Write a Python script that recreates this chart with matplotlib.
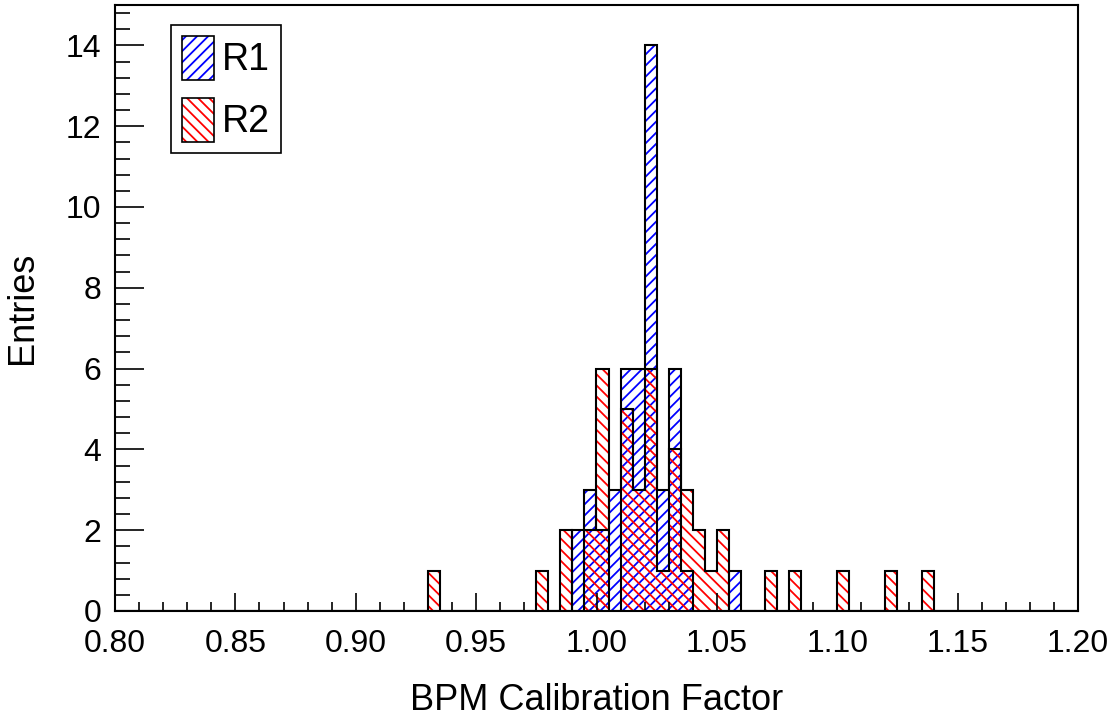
import matplotlib.pyplot as plt
from matplotlib.patches import Patch
import numpy as np

plt.rcParams['font.family'] = ['Liberation Sans', 'DejaVu Sans']
plt.rcParams['hatch.linewidth'] = 1.3

# Binning : 80 bins de 0.005 entre 0.80 et 1.20
bin_edges = np.linspace(0.80, 1.20, 81)

# R1 : bord gauche des bins non vides et contenus
r1_low = [0.990, 0.995, 1.000, 1.005, 1.010, 1.015, 1.020, 1.025, 1.030, 1.035, 1.055]
r1_counts = [2, 3, 2, 3, 6, 6, 14, 3, 6, 1, 1]

# R2
r2_low = [0.930, 0.975, 0.985, 0.995, 1.000, 1.010, 1.015, 1.020, 1.025, 1.030,
          1.035, 1.040, 1.045, 1.050, 1.070, 1.080, 1.100, 1.120, 1.135]
r2_counts = [1, 1, 2, 2, 6, 5, 3, 6, 1, 4, 3, 2, 1, 2, 1, 1, 1, 1, 1]

r1_x = np.array(r1_low) + 0.0025
r2_x = np.array(r2_low) + 0.0025

fig = plt.figure(figsize=(11.16, 7.17), dpi=100)
ax = fig.add_axes([115 / 1116, 106 / 717, 963 / 1116, 606 / 717])

# Hachures
ax.hist(r1_x, bins=bin_edges, weights=r1_counts, histtype='stepfilled',
        facecolor='none', edgecolor='blue', hatch='///', linewidth=0)
ax.hist(r1_x, bins=bin_edges, weights=r1_counts, histtype='step',
        color='black', linewidth=1.5)
ax.hist(r2_x, bins=bin_edges, weights=r2_counts, histtype='stepfilled',
        facecolor='none', edgecolor='red', hatch='\\\\\\', linewidth=0)
ax.hist(r2_x, bins=bin_edges, weights=r2_counts, histtype='step',
        color='black', linewidth=1.5)

ax.set_xlim(0.80, 1.20)
ax.set_ylim(0, 15)

## Graduations
ax.set_xticks(np.arange(0.80, 1.2001, 0.05))
ax.set_xticklabels([f'{v:.2f}' for v in np.arange(0.80, 1.2001, 0.05)])
ax.set_xticks(np.arange(0.80, 1.2001, 0.01), minor=True)
ax.set_yticks(np.arange(0, 15, 2))
ax.set_yticks(np.arange(0, 15, 0.4), minor=True)
ax.tick_params(axis='both', which='both', direction='in', labelsize=23, width=1.2)
ax.tick_params(axis='x', which='major', length=13, pad=13)
ax.tick_params(axis='x', which='minor', length=6.5)
ax.tick_params(axis='y', which='major', length=21, pad=10)
ax.tick_params(axis='y', which='minor', length=10.5)
for s in ax.spines.values():
    s.set_linewidth(1.5)

## Titres
ax.set_xlabel('BPM Calibration Factor', fontsize=26)
ax.xaxis.set_label_coords(0.5, -0.118)
ax.set_ylabel('Entries', fontsize=26)
ax.yaxis.set_label_coords(-0.078, 0.5)

## Légende
h1 = (Patch(facecolor='none', edgecolor='blue', hatch='///', linewidth=0),
      Patch(facecolor='none', edgecolor='black', linewidth=1.2))
h2 = (Patch(facecolor='none', edgecolor='red', hatch='\\\\\\', linewidth=0),
      Patch(facecolor='none', edgecolor='black', linewidth=1.2))
leg = ax.legend([h1, h2], ['R1', 'R2'], loc='upper left',
                bbox_to_anchor=(0.058, 0.967), borderaxespad=0,
                fontsize=27, handlelength=0.85, handleheight=1.4,
                labelspacing=0.5, borderpad=0.3, handletextpad=0.2,
                fancybox=False, framealpha=1, edgecolor='black')
leg.get_frame().set_linewidth(1.2)

fig.savefig('out.png', dpi=100)
